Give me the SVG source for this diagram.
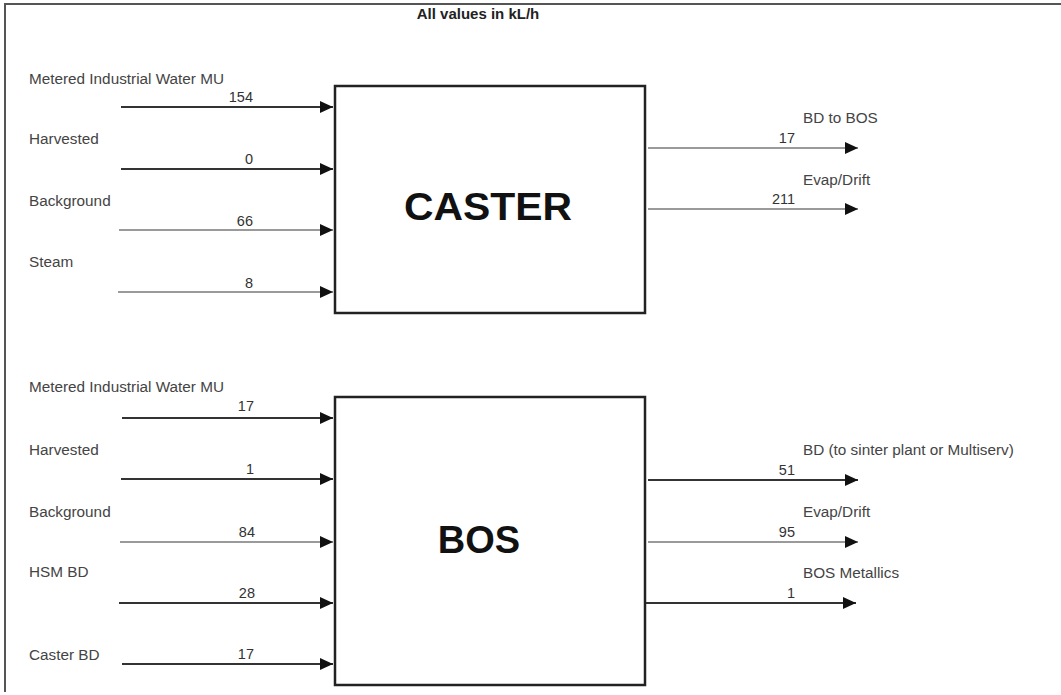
<svg xmlns="http://www.w3.org/2000/svg" width="1061" height="695" viewBox="0 0 1061 695">
<style>
.lbl{font-family:"Liberation Sans",Arial,sans-serif;font-size:15.3px;fill:#444}
.num{font-family:"Liberation Sans",Arial,sans-serif;font-size:14.5px;fill:#333;text-anchor:end}
.title{font-family:"Liberation Sans",Arial,sans-serif;font-size:15px;font-weight:bold;fill:#222;text-anchor:middle}
.big{font-family:"Liberation Sans",Arial,sans-serif;font-size:38px;font-weight:bold;fill:#111;text-anchor:middle}
.box{fill:#fff;stroke:#222;stroke-width:2.5}
.dk{stroke:#333;stroke-width:2;fill:none}
.gy{stroke:#9a9a9a;stroke-width:2;fill:none}
.frame{stroke:#555;stroke-width:2;fill:none}
</style>
<defs>
<marker id="arr" markerUnits="userSpaceOnUse" markerWidth="13" markerHeight="12" refX="13" refY="6" orient="auto">
<path d="M0,0 L13,6 L0,12 z" fill="#111"/>
</marker>
</defs>
<rect width="1061" height="695" fill="#fff"/>
<g id="frame">
<path class="frame" d="M5,692 L5,4 L1061,4"/>
</g>
<text class="title" x="478" y="19">All values in kL/h</text>

<g id="caster">
<rect class="box" x="335" y="86" width="310" height="227"/>
<text class="big" x="488" y="220" textLength="168" lengthAdjust="spacingAndGlyphs">CASTER</text>
</g>
<g id="bos">
<rect class="box" x="335" y="397" width="310" height="288"/>
<text class="big" x="479" y="553">BOS</text>
</g>

<g id="connectors">
<line class="dk" x1="121" y1="107" x2="333" y2="107" marker-end="url(#arr)"/>
<line class="dk" x1="121" y1="169" x2="333" y2="169" marker-end="url(#arr)"/>
<line class="gy" x1="119" y1="230" x2="333" y2="230" marker-end="url(#arr)"/>
<line class="gy" x1="118" y1="292" x2="333" y2="292" marker-end="url(#arr)"/>
<line class="gy" x1="648" y1="148" x2="858" y2="148" marker-end="url(#arr)"/>
<line class="gy" x1="648" y1="209" x2="858" y2="209" marker-end="url(#arr)"/>

<line class="dk" x1="122" y1="418" x2="333" y2="418" marker-end="url(#arr)"/>
<line class="dk" x1="121" y1="479" x2="333" y2="479" marker-end="url(#arr)"/>
<line class="gy" x1="120" y1="542" x2="333" y2="542" marker-end="url(#arr)"/>
<line class="dk" x1="119" y1="603" x2="333" y2="603" marker-end="url(#arr)"/>
<line class="dk" x1="122" y1="664" x2="333" y2="664" marker-end="url(#arr)"/>
<line class="dk" x1="648" y1="480" x2="858" y2="480" marker-end="url(#arr)"/>
<line class="gy" x1="648" y1="542" x2="858" y2="542" marker-end="url(#arr)"/>
<line class="dk" x1="646" y1="603" x2="856" y2="603" marker-end="url(#arr)"/>
</g>

<g id="labels">
<text class="lbl" x="29" y="84">Metered Industrial Water MU</text>
<text class="num" x="253" y="102">154</text>
<text class="lbl" x="29" y="144">Harvested</text>
<text class="num" x="253" y="164">0</text>
<text class="lbl" x="29" y="206">Background</text>
<text class="num" x="253" y="226">66</text>
<text class="lbl" x="29" y="267">Steam</text>
<text class="num" x="253" y="288">8</text>
<text class="lbl" x="803" y="123">BD to BOS</text>
<text class="num" x="795" y="143">17</text>
<text class="lbl" x="803" y="185">Evap/Drift</text>
<text class="num" x="795" y="204">211</text>

<text class="lbl" x="29" y="392">Metered Industrial Water MU</text>
<text class="num" x="254" y="411">17</text>
<text class="lbl" x="29" y="455">Harvested</text>
<text class="num" x="254" y="474">1</text>
<text class="lbl" x="29" y="517">Background</text>
<text class="num" x="255" y="537">84</text>
<text class="lbl" x="29" y="577">HSM BD</text>
<text class="num" x="255" y="598">28</text>
<text class="lbl" x="29" y="660">Caster BD</text>
<text class="num" x="254" y="659">17</text>
<text class="lbl" x="803" y="455">BD (to sinter plant or Multiserv)</text>
<text class="num" x="795" y="475">51</text>
<text class="lbl" x="803" y="517">Evap/Drift</text>
<text class="num" x="795" y="537">95</text>
<text class="lbl" x="803" y="578">BOS Metallics</text>
<text class="num" x="795" y="598">1</text>
</g>
</svg>
